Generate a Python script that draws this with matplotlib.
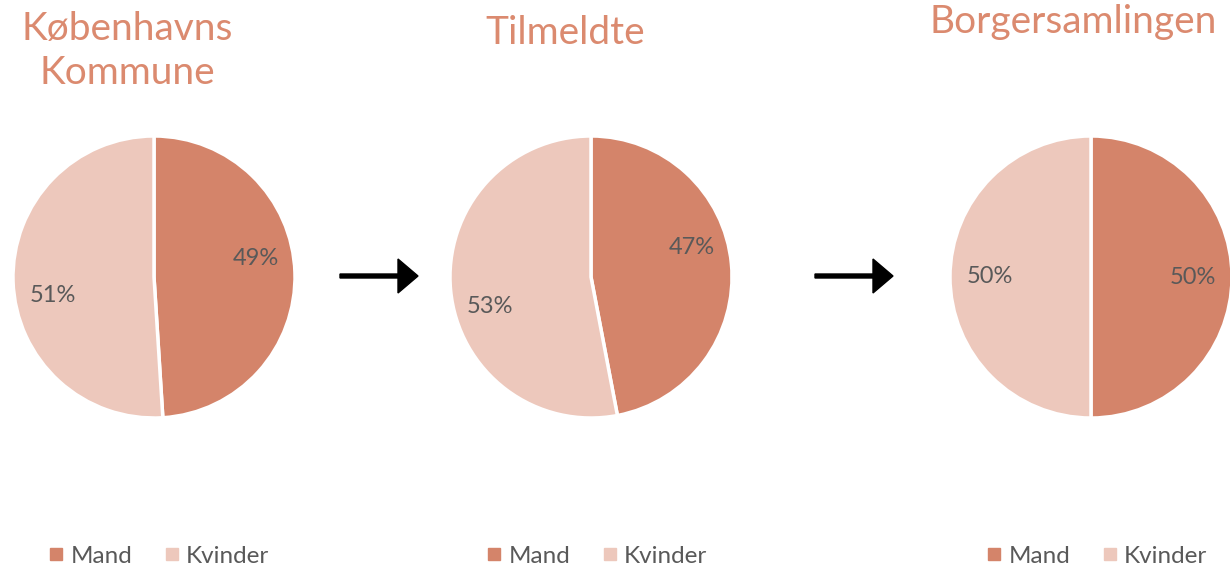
import matplotlib.pyplot as plt
from matplotlib.lines import Line2D
from matplotlib.patches import FancyArrow

plt.rcParams['font.family'] = ['Lato', 'DejaVu Sans']

# data
titles = ['Københavns\nKommune', 'Tilmeldte', 'Borgersamlingen']
categories = ['Mand', 'Kvinder']
mand = [49, 47, 50]
kvinder = [51, 53, 50]

colors = ['#D4846A', '#EDC8BC']
title_color = '#DB8A6F'
text_color = '#595959'

W, H = 1230, 565
fig = plt.figure(figsize=(W / 100, H / 100), dpi=100)

# pie centres in pixels, radius ~141
centers = [154, 591, 1091]
cy = 277
r = 141
title_x = [127, 565, 1073]
title_y = [51, 33, 22]
legend_x = [158, 596, 1096]
label_shift = [0.11, 0.14, 0.0]  # excel pushes the labels apart a bit

for i in range(3):
    ax = fig.add_axes([(centers[i] - r) / W, (H - cy - r) / H, 2 * r / W, 2 * r / H])
    wedges, texts, autotexts = ax.pie([mand[i], kvinder[i]], colors=colors, startangle=90,
                                      counterclock=False, autopct=lambda p: '%.0f%%' % p,
                                      pctdistance=0.72,
                                      wedgeprops=dict(edgecolor='white', linewidth=2.5),
                                      textprops=dict(color=text_color, fontsize=17))
    ax.set_xlim(-1, 1)
    ax.set_ylim(-1, 1)
    ax.set_aspect('equal')
    for w in wedges:
        w.set_clip_on(False)
    x, y = autotexts[0].get_position()
    autotexts[0].set_position((x, y + label_shift[i]))
    x, y = autotexts[1].get_position()
    autotexts[1].set_position((x, y - label_shift[i]))

    fig.text(title_x[i] / W, 1 - title_y[i] / H, titles[i], ha='center', va='center',
             fontsize=28, color=title_color, linespacing=1.25)

    handles = [Line2D([], [], marker='s', linestyle='none', markersize=8,
                      markerfacecolor=c, markeredgecolor=c) for c in colors]
    fig.legend(handles, categories, loc='center', ncol=2, frameon=False,
               bbox_to_anchor=(legend_x[i] / W, 1 - 556 / H), fontsize=17.5,
               handletextpad=0.2, columnspacing=1.2, handlelength=0.8,
               labelcolor=text_color)

# arrows between the pies
for x0, x1 in [(340, 418), (815, 893)]:
    fig.add_artist(FancyArrow(
        x0 / W, 1 - 276 / H, (x1 - x0 - 20) / W, 0, width=4 / H,
        head_width=34 / H, head_length=20 / W, length_includes_head=False,
        color='black', transform=fig.transFigure))

plt.savefig('out.png', dpi=100)
